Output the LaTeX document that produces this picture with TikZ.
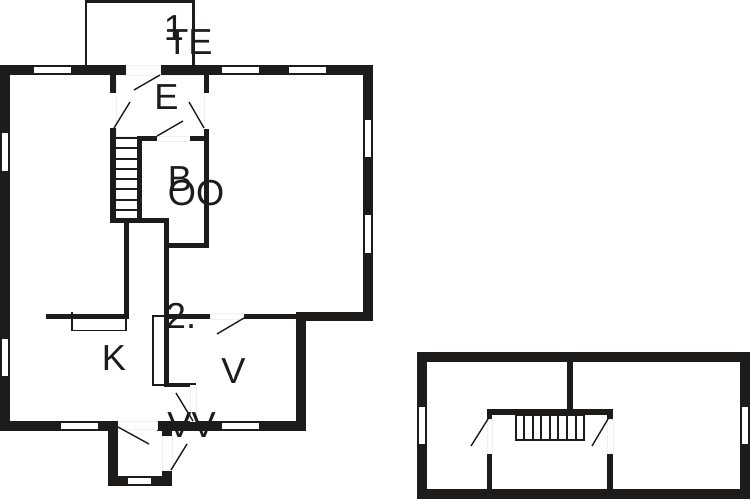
\documentclass[tikz,border=0pt]{standalone}
\usepackage{fontspec}
\setmainfont{Liberation Sans}
\definecolor{walldark}{HTML}{1E1C1B}
\definecolor{doorpale}{HTML}{F1F1EE}
\tikzset{
	wall/.style={fill=walldark},
	win/.style={fill=white},
	leaf/.style={draw=walldark,line width=0.8pt},
	frame/.style={draw=walldark,line width=0.8pt},
	gap/.style={draw=doorpale,fill=white,line width=0.4pt},
	rung/.style={draw=walldark,line width=0.65pt},
	lbl/.style={inner sep=0pt,text=walldark,font=\fontsize{20.6}{24}\selectfont}
}

\begin{document}
\begin{tikzpicture}[x=0.02cm,y=-0.02cm]
		\useasboundingbox (0,0) rectangle (750,500);
		
		% main floor, outline
		\draw[draw=walldark,line width=1.3pt] (86,65) -- (86,1.5) -- (193.5,1.5) -- (193.5,65);
		\fill[wall] (0,65) rectangle (373,75);
		\fill[wall] (0,65) rectangle (10,431);
		\fill[wall] (363,65) rectangle (373,321);
		\fill[wall] (296,312) rectangle (373,321);
		\fill[wall] (296,312) rectangle (306,431);
		\fill[wall] (0,421) rectangle (118,431);
		\fill[wall] (157,421) rectangle (306,431);
		\fill[wall] (108,421) rectangle (118,486);
		\fill[wall] (108,476) rectangle (172,486);
		\fill[wall] (162,470) rectangle (172,486);
		\fill[wall] (162,421) rectangle (172,436);
		
		% door openings
		\draw[gap] (126,65) rectangle (160,75);
		\draw[gap] (116,75) rectangle (204,136);
		\draw[gap] (157,136) rectangle (190,141);
		\draw[gap] (190,387) rectangle (196,421);
		\draw[gap] (118,421) rectangle (157,429);
		\draw[gap] (162,436) rectangle (172,470);
		\draw[gap] (210,313) rectangle (244,319);
		
		% inner walls
		\fill[wall] (110,75) rectangle (116,93);
		\fill[wall] (204,75) rectangle (209,93);
		\fill[wall] (110,128) rectangle (116,223);
		\fill[wall] (204,129) rectangle (209,248);
		\fill[wall] (137,136) rectangle (142,223);
		\fill[wall] (137,136) rectangle (157,141);
		\fill[wall] (190,136) rectangle (209,141);
		\fill[wall] (110,218) rectangle (169,223);
		\fill[wall] (164,218) rectangle (169,387);
		\fill[wall] (164,243) rectangle (209,248);
		\fill[wall] (124,223) rectangle (129,319);
		\fill[wall] (46,314) rectangle (129,319);
		\fill[wall] (164,314) rectangle (210,319);
		\fill[wall] (244,314) rectangle (296,319);
		\fill[wall] (164,383) rectangle (190,387);
		\fill[wall] (190,383) rectangle (196,384.5);
		
		% windows
		\foreach \xa in {34,222,289}
			\fill[win] (\xa,67) rectangle (\xa+37,73);
		\foreach \xa in {61,222}
			\fill[win] (\xa,423) rectangle (\xa+37,429);
		\fill[win] (128,478) rectangle (151,484);
		\fill[win] (2,133) rectangle (8,171);
		\fill[win] (2,339) rectangle (8,376);
		\fill[win] (365,120) rectangle (371,157);
		\fill[win] (365,215) rectangle (371,253);
		
		% stairs, counter, fridge
		\foreach \ya in {138,148,159,169,179,189,200,210}
			\draw[rung] (116,\ya) -- (137,\ya);
		\draw[frame] (72,312) -- (72,330.5) -- (126,330.5) -- (126,319);
		\draw[frame] (164,316) -- (153,316) -- (153,385) -- (164,385);
		
		% doors
		\draw[leaf] (160,75) -- (134,90);
		\draw[leaf] (114,128) -- (130,102);
		\draw[leaf] (204,128) -- (189,102);
		\draw[leaf] (157,136) -- (183,121);
		\draw[leaf] (244,318) -- (217,334);
		\draw[leaf] (176,393) -- (193,421);
		\draw[leaf] (118,427) -- (149,444);
		\draw[leaf] (171,470) -- (187,444);
		
		% upper floor
		\begin{scope}
			\fill[wall] (417,352) rectangle (750,362);
			\fill[wall] (417,489) rectangle (750,499);
			\fill[wall] (417,352) rectangle (427,499);
			\fill[wall] (740,352) rectangle (750,499);
			\fill[wall] (567,362) rectangle (573,410);
			\fill[wall] (487,409) rectangle (613,415);
			\fill[wall] (487,415) rectangle (492,419);
			\fill[wall] (607,415) rectangle (613,419);
			\fill[wall] (487,453) rectangle (492,489);
			\fill[wall] (607,453) rectangle (613,489);
			\draw[gap] (487,419) rectangle (492,453);
			\draw[gap] (607,419) rectangle (613,453);
			\fill[win] (419,407) rectangle (425,444);
			\fill[win] (742,407) rectangle (748,444);
			\draw[leaf] (488,419) -- (471,446);
			\draw[leaf] (608,419) -- (592,446);
			\draw[rung] (516,415) rectangle (584,440);
			\foreach \xa in {524,533,541,550,558,567,576}
				\draw[rung] (\xa,415) -- (\xa,440);
		\end{scope}
		
		% room labels
		\node[lbl] (one) at (174,28) {1};
		\node[lbl] (terrace) at (189.5,42) {TE};
		\node[lbl] (entry) at (166.5,97.5) {E};
		\node[lbl] (bath) at (180,179) {B};
		\node[lbl] (bed) at (196,193) {OO};
		\node[lbl] (two) at (181,316) {2.};
		\node[lbl] (kitchen) at (114,358) {K};
		\node[lbl] (living) at (233.5,371) {V};
		\node[lbl] (wc) at (191.5,425) {VV};
	\end{tikzpicture}
\end{document}
